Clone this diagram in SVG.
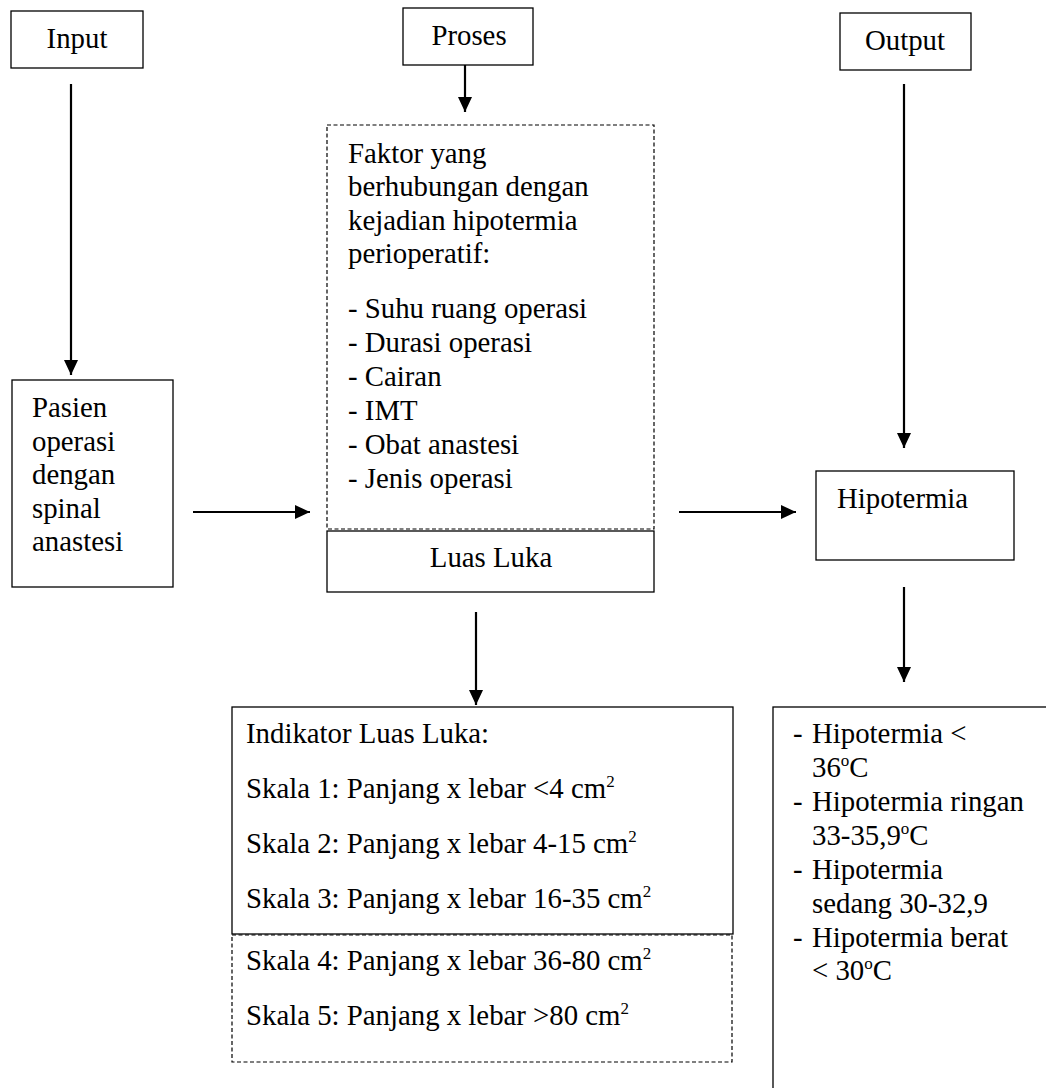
<svg xmlns="http://www.w3.org/2000/svg" width="1046" height="1088" viewBox="0 0 1046 1088">
<style>
  text { font-family: "Liberation Serif", "Times New Roman", serif; font-size: 28.8px; fill: #000; }
  .box { fill: #fff; stroke: #000; stroke-width: 1.3; }
  .dash { fill: none; stroke: #000; stroke-width: 1.2; stroke-dasharray: 4 2.5; }
  .conn { fill: none; stroke: #000; stroke-width: 2.2; marker-end: url(#arrow); }
  .mid { text-anchor: middle; }
  .sup { font-size: 17px; }
</style>
<defs>
  <marker id="arrow" markerUnits="userSpaceOnUse" markerWidth="15" markerHeight="14" refX="15" refY="7" orient="auto">
    <path d="M0,0 L15,7 L0,14 z" fill="#000"/>
  </marker>
</defs>
<rect width="1046" height="1088" fill="#fff"/>

<g id="connectors">
  <line class="conn" x1="71" y1="84" x2="71" y2="375"/>
  <line class="conn" x1="465" y1="65" x2="465" y2="112"/>
  <line class="conn" x1="904" y1="84" x2="904" y2="448"/>
  <line class="conn" x1="193" y1="512" x2="310" y2="512"/>
  <line class="conn" x1="679" y1="512" x2="796" y2="512"/>
  <line class="conn" x1="476" y1="612" x2="476" y2="705"/>
  <line class="conn" x1="904" y1="587" x2="904" y2="682"/>
</g>

<g id="input">
  <rect class="box" x="11" y="11" width="132" height="57"/>
  <text class="mid" x="77" y="48">Input</text>
</g>

<g id="proses">
  <rect class="box" x="403" y="8" width="130" height="57"/>
  <text class="mid" x="469" y="45">Proses</text>
</g>

<g id="output">
  <rect class="box" x="840" y="13" width="131" height="57"/>
  <text class="mid" x="905" y="50">Output</text>
</g>

<g id="pasien">
  <rect class="box" x="12" y="380" width="161" height="207"/>
  <text x="32" y="417">Pasien</text>
  <text x="32" y="451">operasi</text>
  <text x="32" y="484">dengan</text>
  <text x="32" y="518">spinal</text>
  <text x="32" y="551">anastesi</text>
</g>

<g id="faktor">
  <rect class="dash" x="327" y="125" width="327" height="404"/>
  <text x="348" y="163">Faktor yang</text>
  <text x="348" y="196">berhubungan dengan</text>
  <text x="348" y="230">kejadian hipotermia</text>
  <text x="348" y="263">perioperatif:</text>
  <text x="348" y="318">- Suhu ruang operasi</text>
  <text x="348" y="352">- Durasi operasi</text>
  <text x="348" y="386">- Cairan</text>
  <text x="348" y="420">- IMT</text>
  <text x="348" y="454">- Obat anastesi</text>
  <text x="348" y="488">- Jenis operasi</text>
</g>

<g id="luas-luka">
  <rect class="box" x="327" y="531" width="327" height="61"/>
  <text class="mid" x="491" y="567">Luas Luka</text>
</g>

<g id="hipotermia">
  <rect class="box" x="816" y="471" width="198" height="89"/>
  <text x="837" y="508">Hipotermia</text>
</g>

<g id="indikator">
  <rect class="box" x="232" y="707" width="501" height="227"/>
  <text x="246" y="743">Indikator Luas Luka:</text>
  <text x="246" y="798">Skala 1: Panjang x lebar &lt;4 cm<tspan class="sup" dy="-11">2</tspan></text>
  <text x="246" y="853">Skala 2: Panjang x lebar 4-15 cm<tspan class="sup" dy="-11">2</tspan></text>
  <text x="246" y="908">Skala 3: Panjang x lebar 16-35 cm<tspan class="sup" dy="-11">2</tspan></text>
</g>

<g id="indikator-lanjutan">
  <rect class="dash" x="232" y="935" width="500" height="127"/>
  <text x="246" y="970">Skala 4: Panjang x lebar 36-80 cm<tspan class="sup" dy="-11">2</tspan></text>
  <text x="246" y="1025">Skala 5: Panjang x lebar &gt;80 cm<tspan class="sup" dy="-11">2</tspan></text>
</g>

<g id="klasifikasi">
  <rect class="box" x="773" y="707" width="300" height="450"/>
  <text x="793" y="743">-</text>
  <text x="812" y="743">Hipotermia &lt;</text>
  <text x="812" y="777">36<tspan class="sup" dy="-11">o</tspan><tspan dy="11">C</tspan></text>
  <text x="793" y="811">-</text>
  <text x="812" y="811">Hipotermia ringan</text>
  <text x="812" y="845">33-35,9<tspan class="sup" dy="-11">o</tspan><tspan dy="11">C</tspan></text>
  <text x="793" y="879">-</text>
  <text x="812" y="879">Hipotermia</text>
  <text x="812" y="913">sedang 30-32,9</text>
  <text x="793" y="947">-</text>
  <text x="812" y="947">Hipotermia berat</text>
  <text x="812" y="980">&lt; 30<tspan class="sup" dy="-11">o</tspan><tspan dy="11">C</tspan></text>
</g>
</svg>
